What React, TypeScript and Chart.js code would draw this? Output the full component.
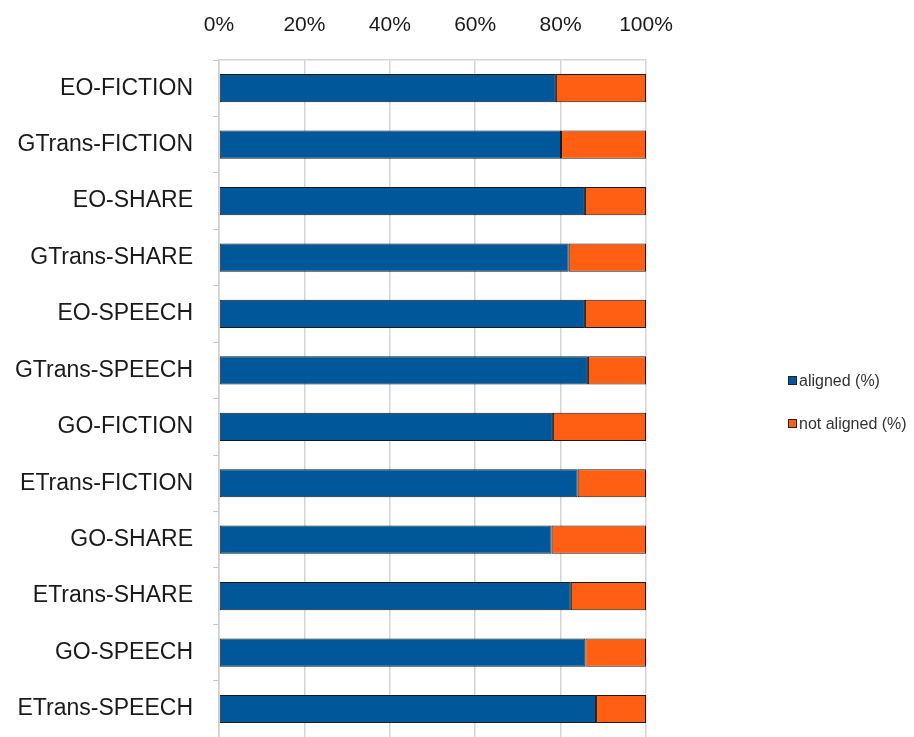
import React, { useEffect, useRef } from "react";
import { Chart, registerables } from "chart.js";

Chart.register(...registerables);

// Corpus / direction pairs, listed top to bottom
const categories = [
  "EO-FICTION",
  "GTrans-FICTION",
  "EO-SHARE",
  "GTrans-SHARE",
  "EO-SPEECH",
  "GTrans-SPEECH",
  "GO-FICTION",
  "ETrans-FICTION",
  "GO-SHARE",
  "ETrans-SHARE",
  "GO-SPEECH",
  "ETrans-SPEECH",
];

// Share of sentences aligned, in percent
const alignedPct = [78.9, 80.1, 85.7, 81.9, 85.7, 86.4, 78.2, 84.0, 77.9, 82.4, 85.8, 88.3];
// Remaining share that could not be aligned
const notAlignedPct = [21.1, 19.9, 14.3, 18.1, 14.3, 13.6, 21.8, 16.0, 22.1, 17.6, 14.2, 11.7];

const seriesNames = ["aligned (%)", "not aligned (%)"];
const xTickValues = [0, 20, 40, 60, 80, 100];

const BLUE = "#00589A";
const ORANGE = "#FF5F12";
const FONT = "'Liberation Sans', Arial, sans-serif";

// Legend drawn as a column to the right of the plot
const sideLegend = {
  id: "sideLegend",
  afterDraw(chart: any) {
    const { ctx } = chart;
    const x = 788;
    const ys = [381, 424];
    ctx.save();
    ctx.font = `16px ${FONT}`;
    ctx.textBaseline = "middle";
    ctx.textAlign = "left";
    chart.data.datasets.forEach((ds: any, i: number) => {
      const y = ys[i];
      ctx.fillStyle = ds.backgroundColor;
      ctx.fillRect(x, y - 5, 9, 9);
      ctx.strokeStyle = "#222";
      ctx.lineWidth = 1;
      ctx.strokeRect(x + 0.5, y - 4.5, 8, 8);
      ctx.fillStyle = "#333";
      ctx.fillText(ds.label, x + 11, y + 1);
    });
    ctx.restore();
  },
};

export default function App() {
  const canvasRef = useRef<HTMLCanvasElement | null>(null);

  useEffect(() => {
    if (!canvasRef.current) return;
    const chart = new Chart(canvasRef.current, {
      type: "bar",
      data: {
        labels: categories,
        datasets: [
          {
            label: seriesNames[0],
            data: alignedPct,
            backgroundColor: BLUE,
            borderColor: "#1a1a1a",
            borderWidth: 1,
            borderSkipped: false,
          },
          {
            label: seriesNames[1],
            data: notAlignedPct,
            backgroundColor: ORANGE,
            borderColor: "#1a1a1a",
            borderWidth: 1,
            borderSkipped: false,
          },
        ],
      },
      options: {
        indexAxis: "y",
        animation: false,
        responsive: false,
        maintainAspectRatio: false,
        layout: { padding: { left: 0, right: 268, top: 0, bottom: 0 } },
        datasets: {
          bar: { barPercentage: 0.5, categoryPercentage: 1 },
        },
        plugins: {
          legend: { display: false },
          tooltip: { enabled: false },
        },
        scales: {
          x: {
            position: "top",
            stacked: true,
            min: 0,
            max: 100,
            afterFit: (s: any) => {
              s.height = 60;
            },
            afterBuildTicks: (s: any) => {
              s.ticks = xTickValues.map((v) => ({ value: v }));
            },
            ticks: {
              callback: (v: any) => `${v}%`,
              color: "#1a1a1a",
              font: { family: FONT, size: 21 },
              padding: 22,
            },
            grid: {
              color: "#d4d4d4",
              lineWidth: 1.5,
              drawTicks: false,
            },
            border: { display: true, color: "#d4d4d4", width: 1.5 },
          },
          y: {
            stacked: true,
            afterFit: (s: any) => {
              s.width = 219;
            },
            ticks: {
              color: "#1a1a1a",
              font: { family: FONT, size: 23 },
              padding: 20,
            },
            grid: {
              drawOnChartArea: false,
              drawTicks: true,
              tickLength: 6,
              color: "#c8c8c8",
              offset: true,
            },
            border: { display: true, color: "#d0d0d0", width: 1.5 },
          },
        },
      },
      plugins: [sideLegend],
    });
    return () => chart.destroy();
  }, []);

  // The plot runs past the lower edge of the frame, so the canvas is
  // taller than the visible box and clipped by it.
  return (
    <div
      style={{
        position: "fixed",
        left: 0,
        top: 0,
        width: 914,
        height: 737,
        overflow: "hidden",
        background: "#fff",
      }}
    >
      <canvas ref={canvasRef} width={914} height={771} style={{ display: "block" }} />
    </div>
  );
}
